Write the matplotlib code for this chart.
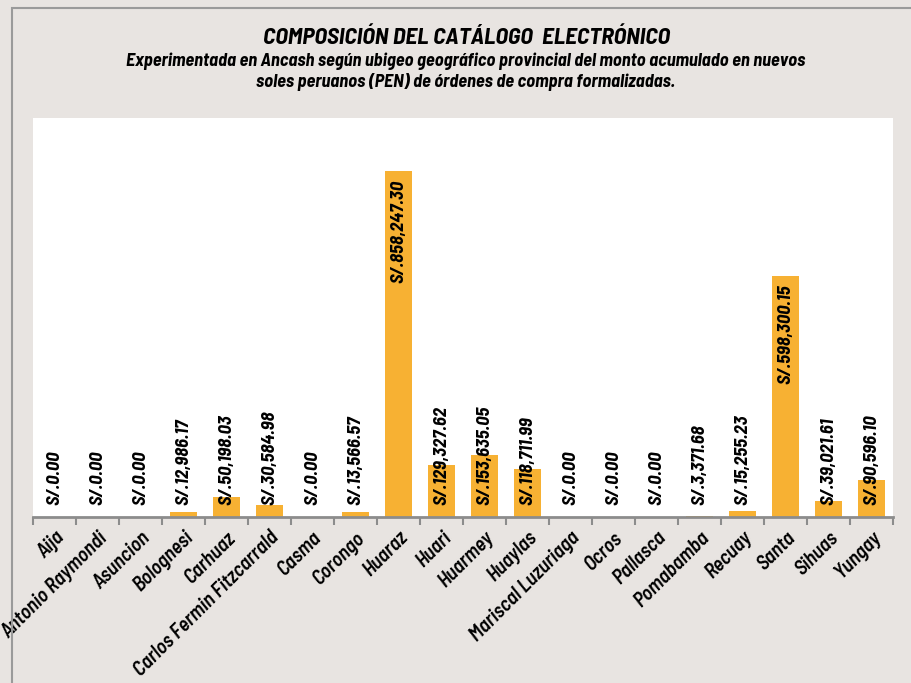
import matplotlib.pyplot as plt
import matplotlib.patches as mpatches
import numpy as np

plt.rcParams['font.family'] = ['Barlow Semi Condensed', 'DejaVu Sans']

# Data
provincias = ['Aija', 'Antonio Raymondi', 'Asuncion', 'Bolognesi', 'Carhuaz',
              'Carlos Fermin Fitzcarrald', 'Casma', 'Corongo', 'Huaraz', 'Huari',
              'Huarmey', 'Huaylas', 'Mariscal Luzuriaga', 'Ocros', 'Pallasca',
              'Pomabamba', 'Recuay', 'Santa', 'Sihuas', 'Yungay']
montos = [0.00, 0.00, 0.00, 12986.17, 50198.03,
          30584.98, 0.00, 13566.57, 858247.30, 129327.62,
          153635.05, 118711.99, 0.00, 0.00, 0.00,
          3371.68, 15255.23, 598300.15, 39021.61, 90596.10]

BG = '#E8E4E1'
BAR = '#F7B133'
AXIS = '#8C8C8C'

fig = plt.figure(figsize=(9.12, 6.83), dpi=100, facecolor=BG)

# outer chart border (left and top edges visible)
fig.add_artist(mpatches.Rectangle((12 / 912, -0.05), 1.2, (683 - 8) / 683 + 0.05,
                                  transform=fig.transFigure, facecolor='none',
                                  edgecolor='#9A9A9A', linewidth=1.5))

ax = fig.add_axes([33 / 912, (683 - 517) / 683, 860 / 912, 399 / 683])
ax.set_facecolor('white')

x = np.arange(len(provincias))
ax.bar(x, montos, width=0.65, color=BAR, zorder=2)

ymax = 990000
ax.set_ylim(0, ymax)
ax.set_xlim(-0.5, len(provincias) - 0.5)

for xi, v in zip(x, montos):
    txt = 'S/.{:,.2f}'.format(v)
    if v > 300000:
        ax.text(xi, v - 0.022 * ymax, txt, rotation=90, ha='center', va='top',
                fontsize=13.5, fontweight='bold', fontstyle='italic', zorder=3)
    else:
        ax.text(xi, 0.03 * ymax, txt, rotation=90, ha='center', va='bottom',
                fontsize=13.5, fontweight='bold', fontstyle='italic', zorder=3)

for s in ['top', 'right', 'left']:
    ax.spines[s].set_visible(False)
ax.spines['bottom'].set_color(AXIS)
ax.spines['bottom'].set_linewidth(2)
ax.set_yticks([])

# category labels centered on bars, tick marks between categories
ax.set_xticks(x)
ax.set_xticklabels(provincias, rotation=45, ha='right', rotation_mode='anchor',
                   fontsize=14.5, fontstyle='italic', fontweight='semibold')
ax.tick_params(axis='x', which='major', length=0, pad=8)
ax.set_xticks(np.arange(-0.5, len(provincias)), minor=True)
ax.tick_params(axis='x', which='minor', length=6, width=1.5, color=AXIS)

fig.text(0.511, 1 - 38 / 683, 'COMPOSICIÓN DEL CATÁLOGO  ELECTRÓNICO',
         ha='center', va='center', fontsize=17, fontweight='bold', fontstyle='italic')
fig.text(0.511, 1 - 72 / 683,
         'Experimentada en Ancash según ubigeo geográfico provincial del monto acumulado en nuevos\n'
         'soles peruanos (PEN) de órdenes de compra formalizadas.',
         ha='center', va='center', fontsize=13.2, fontweight='bold', fontstyle='italic',
         linespacing=1.2)

plt.savefig('out.png', dpi=100, facecolor=BG)
